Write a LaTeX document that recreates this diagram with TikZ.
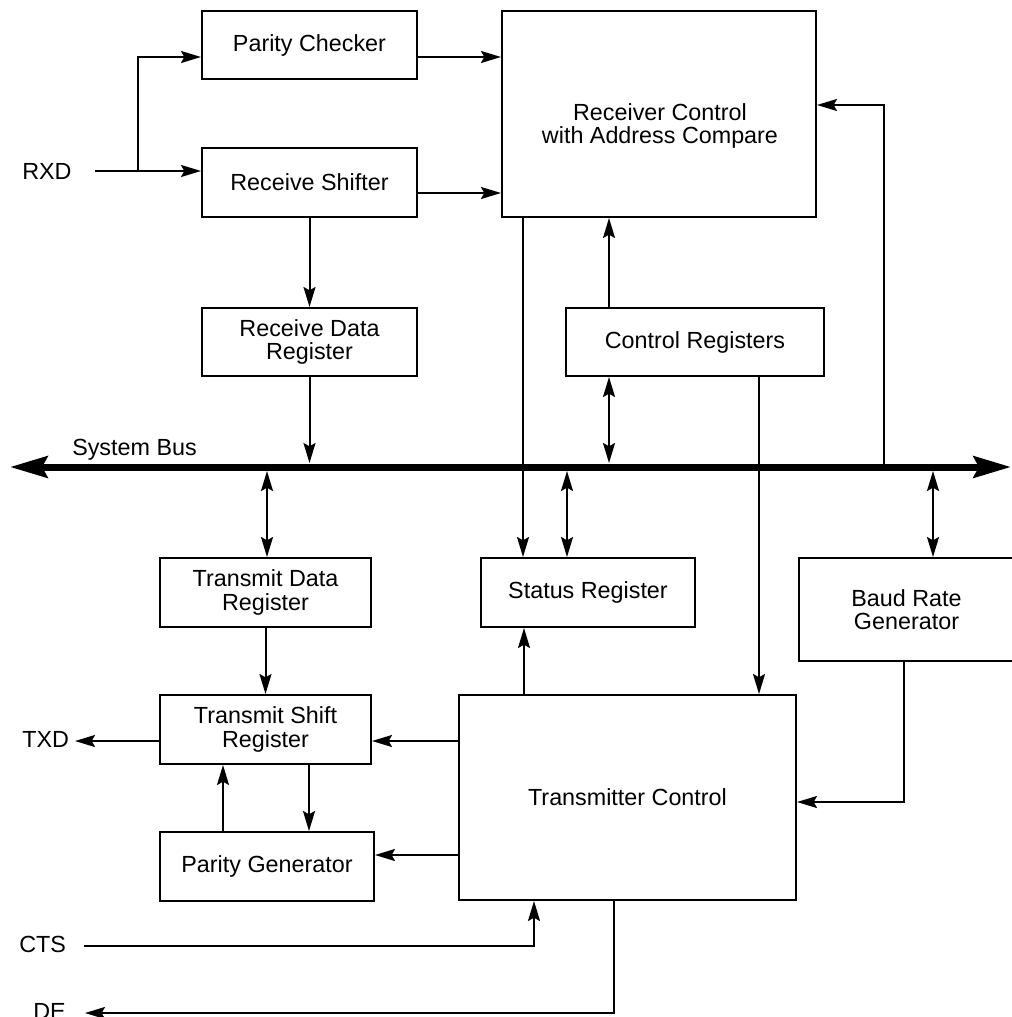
\documentclass[tikz,border=0pt]{standalone}
\usepackage{fontspec}
\setmainfont{Liberation Sans}
\usetikzlibrary{arrows.meta}
\newcommand\lblfont{\fontsize{17.5}{17.5}\selectfont}
\begin{document}
\begin{tikzpicture}[x=0.75pt,y=-0.75pt,
  box/.style={draw, line width=1.5pt, inner sep=0pt, align=center, font=\lblfont},
  lbl/.style={font=\lblfont, inner sep=0pt},
  tip/.tip={Stealth[length=15pt,width=9pt,inset=2.5pt]},
  arr/.style={line width=1.5pt, -tip},
  dbl/.style={line width=1.5pt, tip-tip},
  bus/.style={line width=5.25pt, {Stealth[length=28pt,width=16pt,inset=4pt]}-{Stealth[length=28pt,width=16pt,inset=4pt]}}]
\useasboundingbox (0,0) rectangle (1012,1017);
% boxes
\node[box, minimum width=161.25pt, minimum height=51pt] (pc) at (309.5,45) {Parity Checker};
\node[box, minimum width=161.25pt, minimum height=51.75pt] (rs) at (309.5,182.5) {Receive Shifter};
\node[box, minimum width=235.5pt, minimum height=154.5pt] (rc) at (659,114) {};
\node[lbl, align=center] (rclabel) at (660,126) {Receiver Control\\with Address Compare};
\node[box, minimum width=161.25pt, minimum height=51pt] (rdr) at (309.5,342) {Receive Data\\Register};
\node[box, minimum width=193.5pt, minimum height=51pt] (cr) at (695,342) {Control Registers};
\node[box, minimum width=158.25pt, minimum height=51.75pt] (tdr) at (265.5,592.5) {Transmit Data\\Register};
\node[box, minimum width=160.5pt, minimum height=51.75pt] (sr) at (588,592.5) {Status Register};
\node[box, minimum width=161.25pt, minimum height=77.25pt] (brg) at (906.5,609.5) {Baud Rate\\Generator};
\node[box, minimum width=158.25pt, minimum height=51.75pt] (tsr) at (265.5,729.5) {Transmit Shift\\Register};
\node[box, minimum width=160.5pt, minimum height=51.75pt] (pg) at (267,866.5) {Parity Generator};
\node[box, minimum width=252.75pt, minimum height=153.75pt] (tc) at (627.5,797.5) {Transmitter Control};
% labels
\node[lbl, anchor=base west] (rxd) at (22,179) {RXD};
\node[lbl, anchor=base west] (txd) at (22,747) {TXD};
\node[lbl, anchor=base west] (cts) at (19,952) {CTS};
\node[lbl, anchor=base west] (de) at (33,1019) {DE};
\node[lbl, anchor=base west] (sysbus) at (72,455) {System Bus};
% helper coordinates
\coordinate (bustop) at (0,463);
\coordinate (busbot) at (0,471);
\coordinate (busL) at (10,467);
\coordinate (busR) at (1011,467);
\coordinate (rxdin) at (95,171);
\coordinate (rxdbr) at (138,171);
\coordinate (pcin) at (138,57);
\coordinate (rsout) at (0,193);
\coordinate (xcr) at (609,0);
\coordinate (xsr1) at (523,0);
\coordinate (xsr2) at (567,0);
\coordinate (xtc1) at (759,0);
\coordinate (xrb) at (884,0);
\coordinate (rcin) at (0,105);
\coordinate (xbrg) at (933,0);
\coordinate (xtdr) at (267,0);
\coordinate (ytsr) at (0,741);
\coordinate (txdend) at (75,741);
\coordinate (xpg1) at (223,0);
\coordinate (xpg2) at (309,0);
\coordinate (ypg) at (0,855);
\coordinate (xsr3) at (524,0);
\coordinate (xbr2) at (904,0);
\coordinate (ybr) at (0,802);
\coordinate (ctsstart) at (84,946);
\coordinate (xcts) at (534,0);
\coordinate (xde) at (614,0);
\coordinate (deend) at (85,1013);
% connectors
\draw[arr] (rxdin) -- (rxdin -| rs.west);
\draw[arr] (rxdbr) -- (pcin) -- (pcin -| pc.west);
\draw[arr] (pcin -| pc.east) -- (pcin -| rc.west);
\draw[arr] (rsout -| rs.east) -- (rsout -| rc.west);
\draw[arr] (rs.south) -- (rdr.north);
\draw[arr] (rdr.south) -- (rdr.south |- bustop);
\draw[arr] (xcr |- cr.north) -- (xcr |- rc.south);
\draw[dbl] (xcr |- cr.south) -- (xcr |- bustop);
\draw[arr] (xsr1 |- rc.south) -- (xsr1 |- sr.north);
\draw[dbl] (xsr2 |- busbot) -- (xsr2 |- sr.north);
\draw[arr] (xtc1 |- cr.south) -- (xtc1 |- tc.north);
\draw[arr] (xrb |- busL) -- (xrb |- rcin) -- (rcin -| rc.east);
\draw[dbl] (xbrg |- busbot) -- (xbrg |- brg.north);
\draw[dbl] (xtdr |- busbot) -- (xtdr |- tdr.north);
\draw[arr] (tdr.south) -- (tsr.north);
\draw[arr] (ytsr -| tc.west) -- (ytsr -| tsr.east);
\draw[arr] (ytsr -| tsr.west) -- (txdend);
\draw[arr] (xpg1 |- pg.north) -- (xpg1 |- tsr.south);
\draw[arr] (xpg2 |- tsr.south) -- (xpg2 |- pg.north);
\draw[arr] (ypg -| tc.west) -- (ypg -| pg.east);
\draw[arr] (xsr3 |- tc.north) -- (xsr3 |- sr.south);
\draw[arr] (xbr2 |- brg.south) -- (xbr2 |- ybr) -- (ybr -| tc.east);
\draw[arr] (ctsstart) -- (xcts |- ctsstart) -- (xcts |- tc.south);
\draw[arr] (xde |- tc.south) -- (xde |- deend) -- (deend);
% system bus
\draw[bus] (busL) -- (busR);
\end{tikzpicture}
\end{document}
